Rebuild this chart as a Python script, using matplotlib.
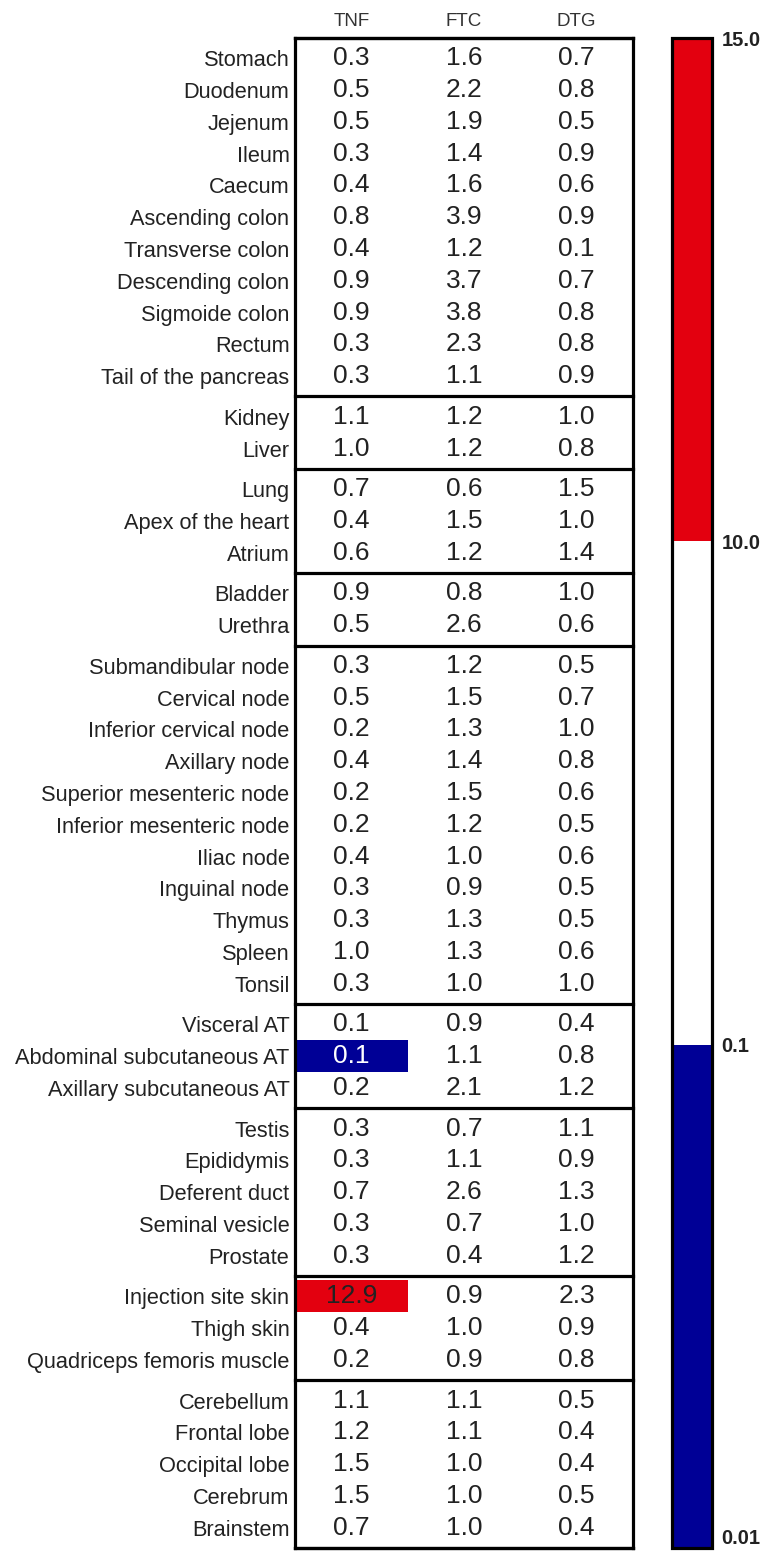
import matplotlib
matplotlib.use('Agg')
import matplotlib as mpl
import matplotlib.pyplot as plt
import numpy as np
from matplotlib.colors import ListedColormap, BoundaryNorm

plt.rcParams['font.family'] = ['Liberation Sans', 'DejaVu Sans']

# ---------------- data ----------------
columns = ["TNF", "FTC", "DTG"]

tissues = [
    "Stomach", "Duodenum", "Jejenum", "Ileum", "Caecum", "Ascending colon",
    "Transverse colon", "Descending colon", "Sigmoide colon", "Rectum",
    "Tail of the pancreas",
    "Kidney", "Liver",
    "Lung", "Apex of the heart", "Atrium",
    "Bladder", "Urethra",
    "Submandibular node", "Cervical node", "Inferior cervical node",
    "Axillary node", "Superior mesenteric node", "Inferior mesenteric node",
    "Iliac node", "Inguinal node", "Thymus", "Spleen", "Tonsil",
    "Visceral AT", "Abdominal subcutaneous AT", "Axillary subcutaneous AT",
    "Testis", "Epididymis", "Deferent duct", "Seminal vesicle", "Prostate",
    "Injection site skin", "Thigh skin", "Quadriceps femoris muscle",
    "Cerebellum", "Frontal lobe", "Occipital lobe", "Cerebrum", "Brainstem",
]

group_sizes = [11, 2, 3, 2, 11, 3, 5, 3, 5]

tnf = [0.3, 0.5, 0.5, 0.3, 0.4, 0.8, 0.4, 0.9, 0.9, 0.3, 0.3,
       1.1, 1.0,
       0.7, 0.4, 0.6,
       0.9, 0.5,
       0.3, 0.5, 0.2, 0.4, 0.2, 0.2, 0.4, 0.3, 0.3, 1.0, 0.3,
       0.1, 0.09, 0.2,
       0.3, 0.3, 0.7, 0.3, 0.3,
       12.9, 0.4, 0.2,
       1.1, 1.2, 1.5, 1.5, 0.7]
ftc = [1.6, 2.2, 1.9, 1.4, 1.6, 3.9, 1.2, 3.7, 3.8, 2.3, 1.1,
       1.2, 1.2,
       0.6, 1.5, 1.2,
       0.8, 2.6,
       1.2, 1.5, 1.3, 1.4, 1.5, 1.2, 1.0, 0.9, 1.3, 1.3, 1.0,
       0.9, 1.1, 2.1,
       0.7, 1.1, 2.6, 0.7, 0.4,
       0.9, 1.0, 0.9,
       1.1, 1.1, 1.0, 1.0, 1.0]
dtg = [0.7, 0.8, 0.5, 0.9, 0.6, 0.9, 0.1, 0.7, 0.8, 0.8, 0.9,
       1.0, 0.8,
       1.5, 1.0, 1.4,
       1.0, 0.6,
       0.5, 0.7, 1.0, 0.8, 0.6, 0.5, 0.6, 0.5, 0.5, 0.6, 1.0,
       0.4, 0.8, 1.2,
       1.1, 0.9, 1.3, 1.0, 1.2,
       2.3, 0.9, 0.8,
       0.5, 0.4, 0.4, 0.5, 0.4]

bounds = [0.01, 0.1, 10.0, 15.0]
bound_labels = ["0.01", "0.1", "10.0", "15.0"]
colors = ["#000096", "#ffffff", "#e3000f"]

# ---------------- figure ----------------
W, H = 768, 1551
fig = plt.figure(figsize=(W / 100, H / 100), dpi=100)

tbl_left, tbl_right = 295, 633
tbl_top, tbl_bot = 38, 1548
ax = fig.add_axes([tbl_left / W, 1 - tbl_bot / H,
                   (tbl_right - tbl_left) / W, (tbl_bot - tbl_top) / H])

cmap = ListedColormap(colors)
norm = BoundaryNorm(bounds, cmap.N)

vals = np.array([tnf, ftc, dtg]).T  # rows x cols

pad = 0.14
y = 0.0
centers = []
edges = [0.0]
start = 0
for n in group_sizes:
    top = y + pad
    yedges = top + np.arange(n + 1)
    ax.pcolormesh(np.arange(4), yedges, vals[start:start + n], cmap=cmap,
                  norm=norm, shading='flat')
    for i in range(n):
        centers.append(top + 0.5 + i)
    y += n + 2 * pad
    edges.append(y)
    start += n

ax.set_xlim(0, 3)
ax.set_ylim(y, 0)

for r, c_y in enumerate(centers):
    for c in range(3):
        v = vals[r, c]
        col = "white" if v < bounds[1] else "#222222"
        ax.text(c + 0.5, c_y, f"{v:.1f}", ha='center', va='center',
                fontsize=19, color=col)

for e in edges:
    ax.axhline(e, color='black', lw=2.3, clip_on=False)
for s in ax.spines.values():
    s.set_linewidth(2.3)

ax.set_yticks(centers)
ax.set_yticklabels(tissues, fontsize=15.7, color='#222222')
ax.xaxis.tick_top()
ax.set_xticks([0.5, 1.5, 2.5])
ax.set_xticklabels(columns, fontsize=13.5, color='#333333')
ax.tick_params(axis='y', length=0, pad=4)
ax.tick_params(axis='x', length=0, pad=6)

# ---------------- colorbar ----------------
cax = fig.add_axes([672 / W, 1 - tbl_bot / H, 40 / W, (tbl_bot - tbl_top) / H])
cb = mpl.colorbar.ColorbarBase(cax, cmap=cmap, norm=norm, boundaries=bounds,
                               spacing='uniform', ticks=bounds)
cb.ax.set_yticklabels(bound_labels, fontsize=14.5, fontweight='bold',
                      color='#222222')
cb.ax.get_yticklabels()[0].set_va('bottom')
cb.ax.tick_params(length=0, pad=7)
cb.outline.set_linewidth(2.3)

fig.savefig('out.png', dpi=100)
